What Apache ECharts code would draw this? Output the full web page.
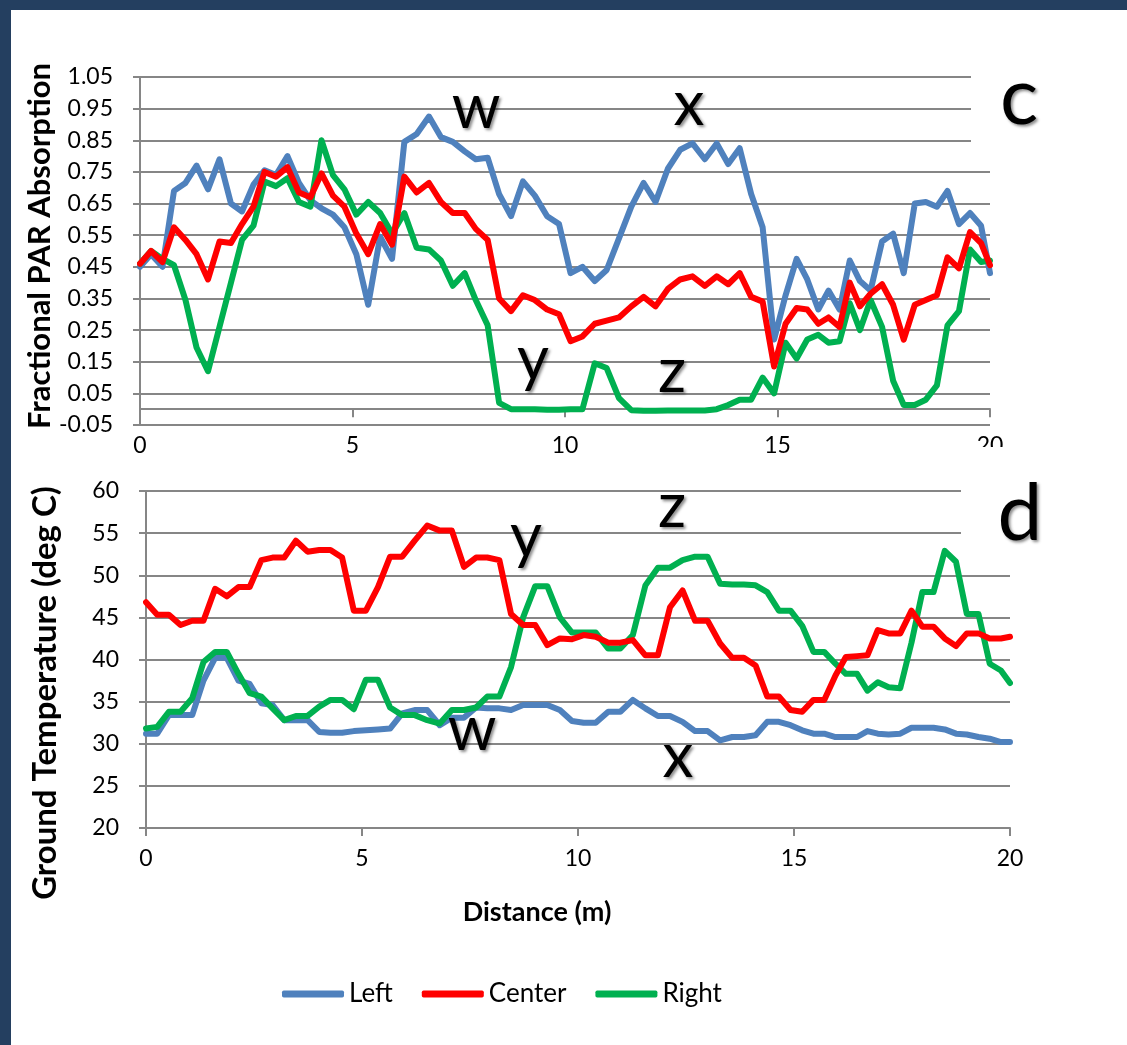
<!DOCTYPE html>
<html>
<head>
<meta charset="utf-8">
<title>PAR absorption and ground temperature</title>
<script src="https://cdn.jsdelivr.net/npm/echarts@6.0.0/dist/echarts.min.js"></script>
<style>
    html, body { margin: 0; padding: 0; background: #fff; }
    #chart { width: 1127px; height: 1045px; }
</style>
</head>
<body>
<div id="chart"></div>
<script>
// distance along the transect (m), shared by both panels
const distance = [
    0, 0.26, 0.53, 0.80, 1.07, 1.33, 1.60, 1.87, 2.14, 2.40,
    2.67, 2.93, 3.20, 3.47, 3.74, 4.01, 4.27, 4.54, 4.81, 5.09,
    5.37, 5.65, 5.93, 6.22, 6.51, 6.80, 7.08, 7.36, 7.64, 7.90,
    8.18, 8.45, 8.73, 9.01, 9.29, 9.58, 9.86, 10.13, 10.41, 10.70,
    10.98, 11.27, 11.56, 11.85, 12.13, 12.42, 12.71, 13.00, 13.29, 13.57,
    13.84, 14.11, 14.38, 14.65, 14.92, 15.19, 15.45, 15.70, 15.96, 16.20,
    16.46, 16.70, 16.94, 17.19, 17.46, 17.72, 17.97, 18.23, 18.49, 18.75,
    19.00, 19.27, 19.53, 19.79, 20.00
];

// panel c: fractional PAR absorption
const parLeft = [
    0.45, 0.49, 0.45, 0.69, 0.715, 0.77, 0.695, 0.79, 0.65, 0.625,
    0.71, 0.755, 0.74, 0.80, 0.715, 0.66, 0.635, 0.615, 0.575, 0.49,
    0.33, 0.545, 0.475, 0.845, 0.87, 0.925, 0.86, 0.845, 0.815, 0.79,
    0.795, 0.68, 0.61, 0.72, 0.675, 0.61, 0.585, 0.43, 0.45, 0.405,
    0.44, 0.54, 0.64, 0.715, 0.655, 0.76, 0.82, 0.84, 0.79, 0.84,
    0.775, 0.825, 0.68, 0.575, 0.22, 0.36, 0.475, 0.41, 0.315, 0.375,
    0.315, 0.47, 0.405, 0.375, 0.53, 0.555, 0.43, 0.65, 0.655, 0.64,
    0.69, 0.585, 0.62, 0.58, 0.43
];
const parCenter = [
    0.46, 0.50, 0.465, 0.575, 0.535, 0.49, 0.41, 0.53, 0.525, 0.585,
    0.64, 0.75, 0.735, 0.765, 0.685, 0.67, 0.745, 0.675, 0.64, 0.555,
    0.49, 0.585, 0.52, 0.735, 0.685, 0.715, 0.655, 0.62, 0.62, 0.57,
    0.535, 0.35, 0.31, 0.36, 0.345, 0.315, 0.30, 0.215, 0.23, 0.27,
    0.28, 0.29, 0.325, 0.355, 0.325, 0.38, 0.41, 0.42, 0.39, 0.42,
    0.395, 0.43, 0.355, 0.34, 0.135, 0.27, 0.32, 0.315, 0.27, 0.29,
    0.26, 0.40, 0.325, 0.365, 0.395, 0.33, 0.22, 0.33, 0.345, 0.36,
    0.48, 0.445, 0.56, 0.525, 0.455
];
const parRight = [
    0.46, 0.50, 0.475, 0.455, 0.345, 0.195, 0.12, 0.26, 0.40, 0.535,
    0.58, 0.72, 0.705, 0.73, 0.655, 0.64, 0.85, 0.74, 0.695, 0.615,
    0.655, 0.62, 0.555, 0.62, 0.51, 0.505, 0.47, 0.39, 0.43, 0.345,
    0.265, 0.02, 0.0, 0.0, 0.0, -0.002, -0.002, 0.0, 0.0, 0.145,
    0.13, 0.035, -0.003, -0.005, -0.005, -0.004, -0.004, -0.004, -0.004, 0.0,
    0.013, 0.03, 0.03, 0.10, 0.05, 0.21, 0.16, 0.22, 0.235, 0.21,
    0.215, 0.335, 0.25, 0.345, 0.26, 0.09, 0.013, 0.013, 0.03, 0.075,
    0.265, 0.31, 0.505, 0.465, 0.47
];

// panel d: ground temperature (deg C)
const tempLeft = [
    31.2, 31.2, 33.4, 33.4, 33.4, 37.5, 40.2, 40.2, 37.5, 37.1,
    34.8, 34.6, 32.8, 32.8, 32.8, 31.4, 31.3, 31.3, 31.5, 31.6,
    31.7, 31.8, 33.6, 34.0, 34.0, 32.2, 33.1, 33.1, 34.3, 34.2,
    34.2, 34.0, 34.6, 34.6, 34.6, 34.0, 32.7, 32.5, 32.5, 33.8,
    33.8, 35.2, 34.2, 33.3, 33.3, 32.6, 31.5, 31.5, 30.4, 30.8,
    30.8, 31.0, 32.6, 32.6, 32.2, 31.6, 31.2, 31.2, 30.8, 30.8,
    30.8, 31.5, 31.2, 31.1, 31.2, 31.9, 31.9, 31.9, 31.7, 31.2,
    31.1, 30.8, 30.6, 30.2, 30.2
];
const tempCenter = [
    46.8, 45.3, 45.3, 44.1, 44.6, 44.6, 48.4, 47.5, 48.6, 48.6,
    51.8, 52.1, 52.1, 54.1, 52.8, 53.0, 53.0, 52.1, 45.8, 45.8,
    48.6, 52.2, 52.2, 54.1, 55.9, 55.3, 55.3, 51.0, 52.1, 52.1,
    51.8, 45.4, 44.1, 44.1, 41.7, 42.5, 42.4, 42.9, 42.7, 42.0,
    42.0, 42.3, 40.5, 40.5, 46.2, 48.2, 44.6, 44.6, 41.9, 40.2,
    40.2, 39.3, 35.6, 35.6, 34.0, 33.8, 35.2, 35.2, 38.1, 40.3,
    40.4, 40.5, 43.5, 43.1, 43.1, 45.8, 43.9, 43.9, 42.5, 41.6,
    43.1, 43.1, 42.5, 42.5, 42.7
];
const tempRight = [
    31.8, 32.0, 33.8, 33.8, 35.4, 39.7, 40.9, 40.9, 38.3, 36.0,
    35.6, 34.2, 32.8, 33.3, 33.3, 34.4, 35.2, 35.2, 34.1, 37.6,
    37.6, 34.3, 33.4, 33.4, 32.8, 32.4, 34.0, 34.0, 34.3, 35.6,
    35.6, 39.1, 45.0, 48.7, 48.7, 45.0, 43.2, 43.2, 43.2, 41.3,
    41.3, 42.9, 48.8, 50.9, 50.9, 51.8, 52.2, 52.2, 49.0, 48.9,
    48.9, 48.8, 48.0, 45.8, 45.8, 44.0, 40.9, 40.9, 39.5, 38.3,
    38.3, 36.3, 37.3, 36.7, 36.6, 42.0, 48.0, 48.0, 52.9, 51.6,
    45.4, 45.4, 39.5, 38.7, 37.2
];

const seriesNames = ['Left', 'Center', 'Right'];
const seriesColors = ['#4F81BD', '#FF0000', '#00B050'];
const parData = [parLeft, parCenter, parRight];
const tempData = [tempLeft, tempCenter, tempRight];

const fontFamily = 'Lato, "Open Sans", sans-serif';
const gray = '#868686';

const chart = echarts.init(document.getElementById('chart'), null, { renderer: 'canvas' });

const toPairs = (ys) => ys.map((y, i) => [distance[i], y]);

const makeX = (gridIndex, margin) => ({
    type: 'value',
    gridIndex: gridIndex,
    min: 0,
    max: 20,
    interval: 5,
    axisLine: { onZero: true, lineStyle: { color: gray, width: 2 } },
    axisTick: { length: 8, lineStyle: { color: gray, width: 2 } },
    axisLabel: { color: '#000', fontSize: 23, margin: margin, showMinLabel: true, showMaxLabel: true },
    splitLine: { show: false }
});

const makeY = (gridIndex, min, max, interval, fmt) => ({
    type: 'value',
    gridIndex: gridIndex,
    min: min,
    max: max,
    interval: interval,
    axisLine: { show: true, lineStyle: { color: gray, width: 2 } },
    axisTick: { show: true, length: 7, lineStyle: { color: gray, width: 2 } },
    axisLabel: { color: '#000', fontSize: 23, margin: 27, formatter: fmt, showMinLabel: true, showMaxLabel: true },
    splitLine: { show: true, lineStyle: { color: gray, width: 2 } }
});

const series = [];
[parData, tempData].forEach((group, g) => {
    group.forEach((values, k) => {
        series.push({
            name: seriesNames[k],
            type: 'line',
            xAxisIndex: g,
            yAxisIndex: g,
            data: toPairs(values),
            showSymbol: false,
            symbol: 'none',
            z: k === 1 ? 4 : 3,
            lineStyle: { color: seriesColors[k], width: 6, join: 'round', cap: 'round' },
            itemStyle: { color: seriesColors[k] }
        });
    });
});

// letters drawn over the plot, with a soft drop shadow
const letter = (text, x, y, size) => ({
    type: 'text',
    x: x,
    y: y,
    z: 50,
    style: {
        text: text,
        fontFamily: fontFamily,
        fontSize: size,
        fill: '#000',
        align: 'center',
        verticalAlign: 'middle',
        textShadowColor: 'rgba(0,0,0,0.45)',
        textShadowBlur: 3,
        textShadowOffsetX: 2,
        textShadowOffsetY: 2
    }
});

const option = {
    animation: false,
    backgroundColor: '#fff',
    textStyle: { fontFamily: fontFamily },
    grid: [
        { left: 140, top: 77, width: 850, height: 348, outerBoundsMode: 'none' },
        { left: 146, top: 491, width: 864, height: 337, outerBoundsMode: 'none' }
    ],
    // top labels sit under the plot, not under the zero line
    xAxis: [makeX(0, 9), makeX(1, 19)],
    yAxis: [
        makeY(0, -0.05, 1.05, 0.1, (v) => v.toFixed(2)),
        makeY(1, 20, 60, 5, (v) => String(Math.round(v)))
    ],
    legend: {
        data: seriesNames,
        left: 282,
        top: 981,
        padding: 0,
        icon: 'roundRect',
        itemWidth: 62,
        itemHeight: 7,
        itemGap: 29,
        textStyle: { fontSize: 26, color: '#000', fontFamily: fontFamily }
    },
    series: series,
    graphic: [
        // slide frame
        { type: 'rect', x: 0, y: 0, z: 100, shape: { width: 1127, height: 10 }, style: { fill: '#243F60' } },
        { type: 'rect', x: 0, y: 0, z: 100, shape: { width: 11, height: 1045 }, style: { fill: '#243F60' } },
        // text boxes of the panel letters hide the ends of the top gridlines
        { type: 'rect', x: 971, y: 68, z: 40, shape: { width: 40, height: 82 }, style: { fill: '#fff' } },
        { type: 'rect', x: 961, y: 482, z: 40, shape: { width: 60, height: 60 }, style: { fill: '#fff' } },
        // lower panel covers the bottom of the top "20"
        { type: 'rect', x: 962, y: 447, z: 40, shape: { width: 50, height: 20 }, style: { fill: '#fff' } },
        // axis titles
        {
            type: 'text', x: 40, y: 246, rotation: Math.PI / 2, z: 50,
            style: { text: 'Fractional PAR Absorption', fontFamily: fontFamily, fontWeight: 'bold', fontSize: 31,
                     fill: '#000', align: 'center', verticalAlign: 'middle' }
        },
        {
            type: 'text', x: 45, y: 693, rotation: Math.PI / 2, z: 50,
            style: { text: 'Ground Temperature (deg C)', fontFamily: fontFamily, fontWeight: 'bold', fontSize: 33,
                     fill: '#000', align: 'center', verticalAlign: 'middle' }
        },
        {
            type: 'text', x: 537, y: 912, z: 50,
            style: { text: 'Distance (m)', fontFamily: fontFamily, fontWeight: 'bold', fontSize: 27,
                     fill: '#000', align: 'center', verticalAlign: 'middle' }
        },
        letter('c', 1019, 98, 80),
        letter('w', 476, 108, 62),
        letter('x', 689, 105, 62),
        letter('y', 533, 360, 62),
        letter('z', 672, 372, 62),
        letter('d', 1020, 514, 80),
        letter('y', 526, 537, 62),
        letter('z', 672, 507, 62),
        letter('w', 472, 730, 62),
        letter('x', 678, 757, 62)
    ]
};

chart.setOption(option);
</script>
</body>
</html>
